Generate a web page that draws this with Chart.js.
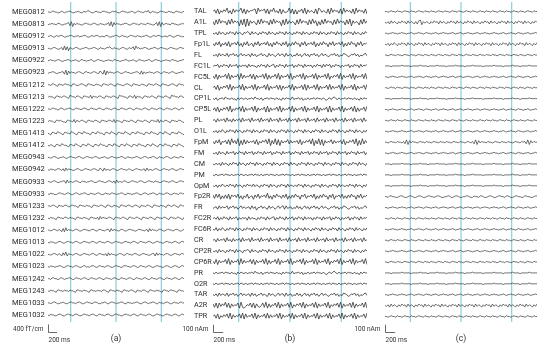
<!DOCTYPE html>
<html>
<head>
<meta charset="utf-8">
<script src="https://cdn.jsdelivr.net/npm/chart.js@4/dist/chart.umd.min.js"></script>
<style>
  html, body { margin: 0; padding: 0; background: #fff; }
  #wrap { position: relative; width: 550px; height: 348px; overflow: hidden; }
  canvas { position: absolute; top: 0; }
</style>
</head>
<body>
<div id="wrap">
  <canvas id="chartA" width="188" height="348" style="left:0px"></canvas>
  <canvas id="chartB" width="190" height="348" style="left:180px"></canvas>
  <canvas id="chartC" width="200" height="348" style="left:350px"></canvas>
</div>
<script>
// time axis (ms) and stimulus markers
const timeRange = [0, 3000];
const stimTimes = [500, 1500, 2500];

const megLabels = ["MEG0812", "MEG0813", "MEG0912", "MEG0913", "MEG0922", "MEG0923", "MEG1212",
  "MEG1213", "MEG1222", "MEG1223", "MEG1413", "MEG1412", "MEG0943", "MEG0942", "MEG0933",
  "MEG0933", "MEG1233", "MEG1232", "MEG1012", "MEG1013", "MEG1022", "MEG1023", "MEG1242",
  "MEG1243", "MEG1033", "MEG1032"];

const eegLabels = ["TAL", "A1L", "TPL", "Fp1L", "FL", "FC1L", "FC5L", "CL", "CP1L", "CP5L", "PL",
  "O1L", "FpM", "FM", "CM", "PM", "OpM", "Fp2R", "FR", "FC2R", "FC6R", "CR", "CP2R", "CP6R",
  "PR", "O2R", "TAR", "A2R", "TPR"];

// traces, one digit per sample, 5 = baseline
// (a) MEG gradiometers, 40 fT/cm per step
const megTraces = [
  "5546655445 6545566544 5565446557 6544565545 6655445656 5445665545 5654466554 5657446554 4566554565 5446655456",
  "4556554665 4455673826 4655445665 5456654465 5455738274 6554556654 4566554565 5466554457 3827456554 6655445565",
  "5565446556 6544556654 5564556654 4565566545 5466544556 6545655445 6655465545 5665445655 6654555466 5445665545",
  "5545665445 6383726545 6654455665 4556654465 5456675465 5445665446 5573856455 6654455665 4566554456 6554456655",
  "5565545665 4455665455 6544665545 5664456655 4455655466 5544556654 5565446655 4556644566 5544556554 6655445566",
  "4556654455 6638274655 4566544665 5456654475 3827465545 6654456655 4455665373 6455655456 6544665545 6654455665",
  "5546654365 5466554366 5445665436 6554465543 6655466543 6655445665 4366554465 5436655466 5436655445 6654366554",
  "4655436655 4665437655 4665436655 4736554665 4366554665 4376655436 6547365543 6655466543 6655466543 7665546654",
  "5546655446 6545566544 6655456654 4665545665 4466554566 5446655456 6544665545 6654466554 5665446655 4566544665",
  "4655436656 5443665547 3654665436 6554665436 6554665473 6554366554 6654366554 6654366554 7365466543 6655466543",
  "5436654765 4366554765 4366547655 4366547655 4366547654 3665547654 3665476554 3665476554 3665476543 6655476543",
  "5465436654 7655436654 7654366547 6543665476 5543665476 5436654765 4366547655 4366547654 3665476554 3665476543",
  "5545665445 5654456655 4566544566 5545665445 5654456655 4556654465 5455665445 6654556654 4655456654 4565546655",
  "5465545665 4637465544 5665445665 5456654475 3745545665 4456655456 5445665545 6374554566 5445665545 6654456655",
  "5545665445 5663745545 6654465545 5665445665 5445665463 7455466544 5665545665 4456655465 5445665545 6654456655",
  "5465544566 5545665445 6654556654 4655456654 4565546655 4556654465 5455665445 6654556654 4655456654 4565546655",
  "5546654365 5466544665 5436655465 5436655466 5436654465 5436655466 5446654365 5466543665 5465543665 4665436655",
  "5465543665 5466546554 3665546554 3665546374 6554665436 6554665436 6554665436 6554665436 6554665436 6554665436",
  "5545665465 3738465545 6654456655 4566544665 5456637465 5446654456 6554456655 4563746554 5665445665 5456654456",
  "5465544566 5445665545 6654456655 4566544665 5456654456 6554456655 4566544665 5456654456 6554456655 4566544665",
  "5545665465 3748365545 6654456655 4566544665 5463746554 4566544665 5456654456 6554456637 4655456654 4566554665",
  "5465545566 5445665545 6654456645 4566544665 5456654456 6554466655 4566544665 5456654456 6554456654 4566544665",
  "5546655446 6545566544 6655456654 4665545665 4466554566 5446655456 6544665545 6654466554 5665446655 4566544665",
  "5465543665 5465546554 3665546554 3665546554 6654366554 6554366554 6654365546 6543665546 5543665546 6554366554",
  "5545665445 5654456655 4566544566 5545665445 5664456655 4556654465 5455665445 6654556654 4655456654 4565546655",
  "5465544566 5445665545 6654456655 4566544665 5456654456 6554456655 4566544665 5456654456 6554456655 4566544665"
];

// (b) EEG channels, 11 nAm per step
const eegTraces = [
  "5738264759 3628475693 8274667829 5768382759 4638274459 3827265839 2746538297 4653829475 6382947563 8294756382",
  "6283947562 8394756182 9091746528 3947562839 4756182937 4652839475 6283947162 8394756283 9475628391 7465283947",
  "5463746536 4756374653 6576374653 6475637465 3647563746 5364756374 6536475637 4653647563 7465364756 3746536475",
  "6374826473 8265748362 7483562748 3657483627 4856374826 3748562748 3657482637 4856274836 5748263748 5627483657",
  "5463746547 3657463574 6456374635 5746437465 3574663745 6354746357 4636574635 7465346574 6354765346 5746354674",
  "4657364756 3746573646 5637465536 4756374567 3647563746 5736475637 4656364756 3747573647 5636465736 4756374657",
  "6382746583 9274658293 7465838274 6583927365 8392746583 9264758392 7465839274 6583926475 8392746583 9274658392",
  "5738264758 3927465839 2746583927 4658392746 5838274658 3927465839 2846583927 4658393746 5839274658 3927465839",
  "5463556475 5464536465 4645564755 4635564655 4645364655 4745564635 4645564655 4643564675 4645564655 4645364655",
  "4738264758 3926475839 2746583927 4658292746 5839274658 3927465839 2746583927 4658292746 5839274658 3927365839",
  "5637465738 4637465738 4657384657 3846573846 5738465738 4657384657 3846573846 5738465738 4657384657 3846573846",
  "5463647536 4756374653 6475637465 3647563746 5364756374 6536475637 4653647563 7465364756 3746536475 6374653647",
  "6374826573 8294739172 8374657382 6475839173 9281746583 7465738264 7583917392 8174658374 6573826475 8391729374",
  "5463746537 4657364756 3746573647 5637465736 4756374657 3647563746 5736475637 4657364756 3746573647 5637465736",
  "5464637465 3647563746 5364756374 6536475637 4653647563 7465364756 3746536475 6374653647 5637465364 7563746536",
  "5464556465 5464556465 4645564655 4645564655 4645564655 4645564655 4645564655 4645564655 4645564655 4645564655",
  "5463647546 4756374653 6475647465 3647563746 5364756374 6546475637 4653647563 7465364756 3746546475 6374653647",
  "7384826373 8275748362 6483562748 3657493627 4856374826 3748562758 3657482637 4856274826 5748363748 5627483657",
  "4563746557 3657463574 6456374625 5746437465 3574673745 6354746357 4636574635 7465346574 6354765346 5746354674",
  "5647364756 3746573646 5637465536 4756374567 3647563746 5736475637 4656364756 3746573647 5636465736 4756374657",
  "5473647536 4756374653 6475637465 3647563746 5364756374 6536475637 4653647563 7465364756 3746536475 6374653647",
  "5637465738 4637465738 4657384657 3846573846 5738465738 4657384657 3846573846 5738465738 4657384657 3846573846",
  "5463746536 4756374653 6576374653 6475637465 3647563746 5364756374 6536475637 4653647563 7465364756 3746536475",
  "6382746583 9274658293 7465838274 6583927365 8392746583 9264758392 7465839274 6583926475 8392746583 9274658392",
  "5464556465 5464536465 4645564755 4635564655 4645364655 4745564635 4645564655 4643564675 4645564655 4645364655",
  "5464556465 5464556465 4645564655 4645564655 4645564655 4645564655 4645564655 4645564655 4645564655 4645564655",
  "5463746547 3657463574 6456374635 5746437465 3574663745 6354746357 4636574635 7465346574 6354765346 5746354674",
  "7382847593 8274658293 2465838274 3583927365 8392746583 9264758392 7465839274 6583926475 8392746583 9274658392",
  "5738264758 3927465839 2846583927 4658393746 5839274658 3927465839 2746583927 4658392746 5839274658 3927465839"
];

// (c) EEG channels after processing, 10 nAm per step
const cleanTraces = [
  "5545655465 5456554655 4565546554 6554565546 5545655465 5456554655 4565546554 6554565546 5545655465 5456554655",
  "5463746536 4756374653 6378264653 6475637465 3647563746 5364756374 6536475637 4653647563 7465364756 3746536475",
  "5545565545 5655455654 5565545655 4556545565 5455654556 5455655455 6545565545 5655455654 5565545655 4556545565",
  "5463647536 4756374653 6475637465 3647563746 5364756374 6536475637 4653647563 7465364756 3746536475 6374653647",
  "5545655465 5456554655 4565546554 6554565546 5545655465 5456554655 4565546554 6554565546 5545655465 5456554655",
  "5555455555 5655555455 5556555545 5555655555 4555556555 5545555655 5555455555 5655555455 5556555545 5555655555",
  "5545565545 5655455654 5565545655 4556545565 5455654556 5455655455 6545565545 5655455654 5565545655 4556545565",
  "5545655465 5456554655 4565546554 6554565546 5545655465 5456554655 4565546554 6554565546 5545655465 5456554655",
  "5555455555 5655555455 5556555545 5555655555 4555556555 5545555655 5555455555 5655555455 5556555545 5555655555",
  "5545565545 5655455654 5565545655 4556545565 5455654556 5455655455 6545565545 5655455654 5565545655 4556545565",
  "5545655465 5456554655 4565546554 6554565546 5545655465 5456554655 4565546554 6554565546 5545655465 5456554655",
  "5545565545 5655455654 5565545655 4556545565 5455654556 5455655455 6545565545 5655455654 5565545655 4556545565",
  "5545655465 5463827465 5456554655 4565546554 6554565546 5545654638 2746554655 4565546554 6554565546 5638274655",
  "5545565545 5655455654 5565545655 4556545565 5455654556 5455655455 6545565545 5655455654 5565545655 4556545565",
  "5555455555 5655555455 5556555545 5555655555 4555556555 5545555655 5555455555 5655555455 5556555545 5555655555",
  "5555455555 5655555455 5556555545 5555655555 4555556555 5545555655 5555455555 5655555455 5556555545 5555655555",
  "5555455555 5655555455 5556555545 5555655555 4555556555 5545555655 5555455555 5655555455 5556555545 5555655555",
  "5546655445 6654456654 4566544566 5545665445 5664456654 4556654465 5466544566 5445665546 6544566554 4665544566",
  "5545565545 5655455654 5565545655 4556545565 5455654556 5455655455 6545565545 5655455654 5565545655 4556545565",
  "5545655465 5456554655 4565546554 6554565546 5545655465 5456554655 4565546554 6554565546 5545655465 5456554655",
  "5545565545 5655455654 5565545655 4556545565 5455654556 5455655455 6545565545 5655455654 5565545655 4556545565",
  "5545655465 5456554655 4565546554 6554565546 5545655465 5456554655 4565546554 6554565546 5545655465 5456554655",
  "5545565545 5655455654 5565545655 4556545565 5455654556 5455655455 6545565545 5655455654 5565545655 4556545565",
  "5545655465 5456554655 4565546554 6554565546 5545655465 5456554655 4565546554 6554565546 5545655465 5456554655",
  "5555455555 5655555455 5556555545 5555655555 4555556555 5545555655 5555455555 5655555455 5556555545 5555655555",
  "5555455555 5655555455 5556555545 5555655555 4555556555 5545555655 5555455555 5655555455 5556555545 5555655555",
  "5545565545 5655455654 5565545655 4556545565 5455654556 5455655455 6545565545 5655455654 5565545655 4556545565",
  "5463746536 4756374653 6475637465 3647563746 5364756374 6536475637 4653647563 7465364756 3746536475 6374653647",
  "5545655465 5456554655 4565546554 6554565546 5545655465 5456554655 4565546554 6554565546 5545655465 5456554655"
];

Chart.defaults.font.family = "Roboto, 'Liberation Sans', sans-serif";
Chart.defaults.color = "#333";

// turn a digit string into samples along the time axis
function decode(str, step) {
  const d = str.replace(/\s/g, "").split("").map(c => (Number(c) - 5) * step);
  const n = d.length;
  return d.map((v, k) => ({ t: timeRange[0] + k * (timeRange[1] - timeRange[0]) / (n - 1), v: v }));
}

// stimulus markers, drawn under the traces
const markers = {
  id: "markers",
  beforeDatasetsDraw(chart) {
    const { ctx, chartArea, scales: { x } } = chart;
    ctx.save();
    ctx.strokeStyle = "#93d0e0";
    ctx.lineWidth = 1.3;
    stimTimes.forEach(t => {
      const px = x.getPixelForValue(t);
      ctx.beginPath();
      ctx.moveTo(px, chartArea.top);
      ctx.lineTo(px, chartArea.bottom);
      ctx.stroke();
    });
    ctx.restore();
  }
};

// scale bar + panel letter under each panel
const scaleBar = {
  id: "scaleBar",
  afterDraw(chart, args, o) {
    const { ctx, scales: { x, y } } = chart;
    const x0 = Math.round(x.getPixelForValue(0)) + 0.5;
    const x1 = x.getPixelForValue(200);
    const h = Math.abs(y.getPixelForValue(o.amp) - y.getPixelForValue(0));
    const yb = 332.5;
    ctx.save();
    ctx.strokeStyle = "#444";
    ctx.lineWidth = 0.8;
    ctx.beginPath();
    ctx.moveTo(x0, yb - h);
    ctx.lineTo(x0, yb);
    ctx.lineTo(x1, yb);
    ctx.stroke();
    ctx.fillStyle = "#333";
    ctx.font = "6.5px Roboto, sans-serif";
    ctx.textAlign = "right";
    ctx.textBaseline = "middle";
    ctx.fillText(o.ampLabel, x0 - 5, yb - 3);
    ctx.textAlign = "left";
    ctx.fillText("200 ms", x0, yb + 8);
    ctx.font = "8.5px Roboto, sans-serif";
    ctx.textAlign = "center";
    ctx.fillText(o.title, x.getPixelForValue(1500), yb + 6);
    ctx.restore();
  }
};

function makePanel(id, labels, traces, opt) {
  const datasets = traces.map((tr, row) => ({
    label: labels[row],
    data: decode(tr, opt.step).map(p => ({ x: p.t, y: row * opt.spacing - p.v })),
    borderColor: "#333",
    borderWidth: opt.lineWidth,
    pointRadius: 0,
    tension: 0
  }));

  return new Chart(document.getElementById(id), {
    type: "line",
    data: { datasets },
    plugins: [markers, scaleBar],
    options: {
      responsive: false,
      animation: false,
      events: [],
      layout: { padding: opt.padding },
      plugins: {
        legend: { display: false },
        tooltip: { enabled: false },
        scaleBar: { amp: opt.barAmp, ampLabel: opt.barLabel, title: opt.title }
      },
      scales: {
        x: {
          type: "linear",
          min: timeRange[0],
          max: timeRange[1],
          border: { display: false },
          ticks: { display: false },
          grid: { display: false },
          afterFit: s => { s.height = 0; s.paddingLeft = 0; s.paddingRight = 0; }
        },
        y: {
          type: "linear",
          reverse: true,
          min: opt.yMin,
          max: opt.yMax,
          display: opt.showLabels,
          border: { display: false },
          grid: { display: false },
          ticks: {
            autoSkip: false,
            crossAlign: "far",
            padding: 0,
            font: { size: opt.labelSize },
            color: "#2a2a2a",
            callback: v => labels[Math.round(v / opt.spacing)]
          },
          afterBuildTicks: s => { s.ticks = labels.map((l, i) => ({ value: i * opt.spacing })); },
          afterFit: s => { s.width = opt.axisWidth; s.paddingTop = 0; s.paddingBottom = 0; }
        }
      }
    }
  });
}

makePanel("chartA", megLabels, megTraces, {
  step: 40, spacing: 600, yMin: -495, yMax: 15346, lineWidth: 0.7, labelSize: 7.5,
  padding: { left: 12, right: 4, top: 2, bottom: 26 },
  axisWidth: 36, showLabels: true,
  barAmp: 400, barLabel: "400 fT/cm", title: "(a)"
});

makePanel("chartB", eegLabels, eegTraces, {
  step: 11, spacing: 140, yMin: -122, yMax: 3991, lineWidth: 0.8, labelSize: 7.2,
  padding: { left: 14, right: 3, top: 2, bottom: 26 },
  axisWidth: 19, showLabels: true,
  barAmp: 100, barLabel: "100 nAm", title: "(b)"
});

makePanel("chartC", eegLabels, cleanTraces, {
  step: 10, spacing: 140, yMin: -122, yMax: 3991, lineWidth: 0.7, labelSize: 7.2,
  padding: { left: 35, right: 13, top: 2, bottom: 26 },
  axisWidth: 0, showLabels: false,
  barAmp: 100, barLabel: "100 nAm", title: "(c)"
});
</script>
</body>
</html>
